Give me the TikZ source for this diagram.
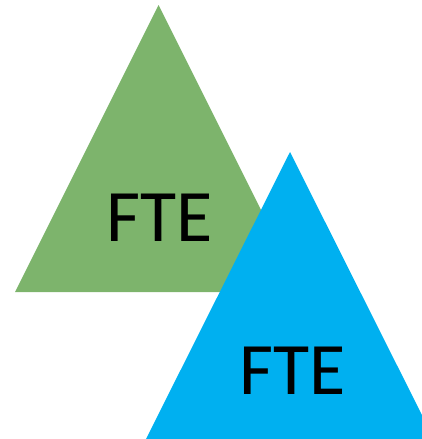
\documentclass[tikz,border=0pt]{standalone}
\usepackage{fontspec}
\setmainfont{Carlito}
\definecolor{fgreen}{RGB}{125,180,108}
\definecolor{fblue}{RGB}{0,176,240}
\begin{document}
\begin{tikzpicture}[x=1pt,y=-1pt,
  label/.style={font=\fontsize{74}{74}\selectfont, text=black, inner sep=0pt, anchor=center}]
\useasboundingbox (0,0) rectangle (422,439);
\begin{scope}
\clip (0,0) rectangle (422,439);
\fill[fgreen] (158.5,5) -- (302,292) -- (15,292) -- cycle;
\fill[fblue] (290,152) -- (434,439) -- (146,439) -- cycle;
\end{scope}
\node[label] (g) at (159.7,217.5) {FTE};
\node[label] (b) at (293,370.5) {FTE};
\end{tikzpicture}
\end{document}
